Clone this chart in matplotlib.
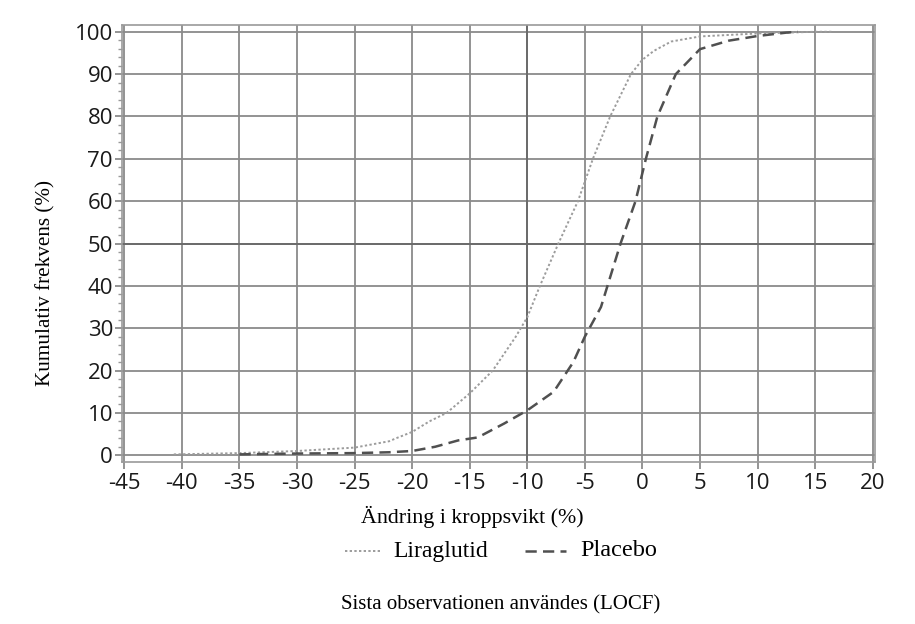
import matplotlib
matplotlib.use("Agg")
import matplotlib.pyplot as plt
from matplotlib.ticker import MultipleLocator
from matplotlib.lines import Line2D

# Data
lira_x = [-40.7, -35, -30, -25, -22, -21.4, -20, -18.5, -17, -15, -13, -11, -10,
          -8.9, -7.3, -5.6, -4.3, -2.8, -1.0, 0, 1, 2.5, 5, 10, 15, 16.5]
lira_y = [0.2, 0.5, 1.0, 1.8, 3.3, 4.0, 5.5, 8.0, 10.0, 14.6, 20.0, 28.0, 32.6,
          40.0, 50.0, 60.0, 70.0, 80.0, 90.0, 93.4, 95.5, 97.7, 98.9, 99.6, 100, 100]

plac_x = [-35, -30, -25, -22, -20, -18, -16, -14.3, -12, -10, -7.7, -6, -5,
          -3.6, -1.9, -0.6, 0.3, 1.3, 2.9, 5, 7.5, 10, 12.5, 13.5]
plac_y = [0.2, 0.4, 0.5, 0.7, 1.0, 2.0, 3.5, 4.2, 7.5, 10.6, 15.0, 22.0, 28.0,
          35.0, 50.0, 60.0, 70.0, 80.0, 90.0, 95.9, 97.9, 99.0, 99.8, 100]

x_ticks = list(range(-45, 21, 5))
y_ticks = list(range(0, 101, 10))
ref_x = -10
ref_y = 50

series_names = ["Liraglutid", "Placebo"]
x_label = "Ändring i kroppsvikt (%)"
y_label = "Kumulativ frekvens (%)"
footer = "Sista observationen användes (LOCF)"

W, H = 915, 624
fig = plt.figure(figsize=(W / 100, H / 100), dpi=100)
L, R, T, B = 122, 875, 25, 462
ax = fig.add_axes([L / W, 1 - B / H, (R - L) / W, (B - T) / H])

grid_c = "#8a8a8a"
ax.set_xlim(-45.2, 20.2)
ax.set_ylim(-1.6, 101.6)
ax.set_xticks(x_ticks)
ax.set_yticks(y_ticks)
ax.yaxis.set_minor_locator(MultipleLocator(2))
ax.set_xticklabels([str(v) for v in x_ticks])
ax.grid(True, which="major", color=grid_c, linewidth=1.3)
ax.set_axisbelow(True)
ax.axvline(ref_x, color="#686868", linewidth=1.3, zorder=0.6)
ax.axhline(ref_y, color="#686868", linewidth=1.3, zorder=0.6)
for s in ax.spines.values():
    s.set_color("#9a9a9a")
    s.set_linewidth(1.2)

ax.tick_params(axis="both", which="major", direction="out", length=5, width=1.1,
               color="#777777", labelcolor="#1a1a1a", labelsize=16)
ax.tick_params(axis="y", which="minor", direction="out", length=3, width=1.0, color="#999999")
ax.tick_params(axis="x", pad=3)
ax.tick_params(axis="y", pad=1.5)
for lab in ax.get_xticklabels() + ax.get_yticklabels():
    lab.set_fontfamily("Open Sans")

lira_style = dict(linestyle=(0, (1.2, 1.2)), color="#9c9c9c", linewidth=1.4)
plac_style = dict(linestyle=(0, (4.5, 2.5)), color="#505050", linewidth=1.8)
ax.plot(lira_x, lira_y, label=series_names[0], **lira_style)
ax.plot(plac_x, plac_y, label=series_names[1], **plac_style)

serif = ["Liberation Serif", "DejaVu Serif"]
fig.text(472 / W, 1 - 517 / H, x_label, ha="center", va="center",
         fontsize=15.8, family=serif)
fig.text(46 / W, 1 - 283 / H, y_label, ha="center", va="center", rotation=90,
         fontsize=15.2, family=serif)
fig.text(501 / W, 1 - 605 / H, footer, ha="center", va="center",
         fontsize=15, family=serif)

# legend (manual key layout)
ly = 1 - 551 / H
fig.add_artist(Line2D([345 / W, 381 / W], [ly, ly], transform=fig.transFigure, **lira_style))
fig.text(393 / W, ly, series_names[0], ha="left", va="center", fontsize=17, family=serif)
fig.add_artist(Line2D([525 / W, 566 / W], [ly, ly], transform=fig.transFigure, **plac_style))
fig.text(580 / W, ly, series_names[1], ha="left", va="center", fontsize=17.5, family=serif)

fig.savefig("out.png", dpi=100)
